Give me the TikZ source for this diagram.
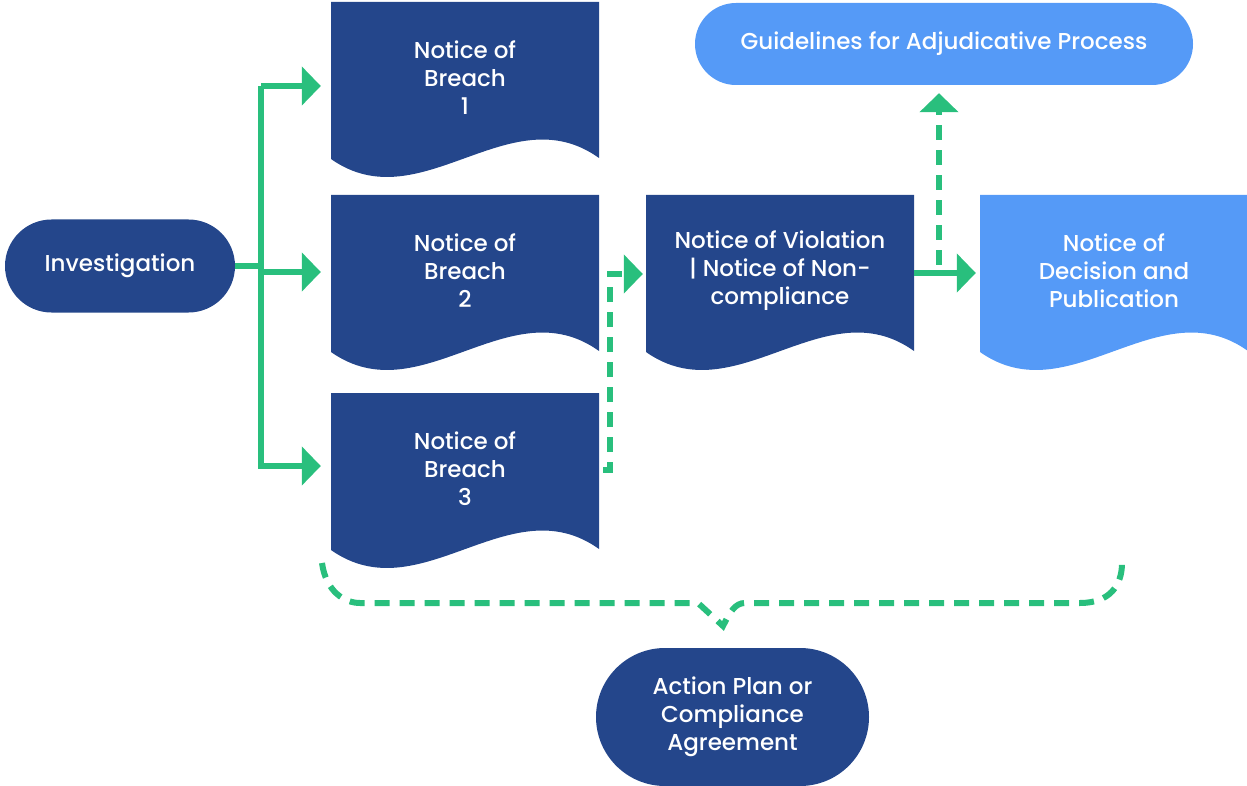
\documentclass[tikz,border=0pt]{standalone}
\usepackage{fontspec}
\setmainfont{Poppins Medium}
\usetikzlibrary{arrows.meta,shapes.misc}
\definecolor{dblue}{HTML}{24468B}
\definecolor{lblue}{HTML}{559AF7}
\definecolor{grn}{HTML}{29BF7D}
\begin{document}
\begin{tikzpicture}[x=1pt,y=-1pt,
  txt/.style={text=white, align=center, font=\fontsize{23}{28}\selectfont},
  pill/.style={txt, rounded rectangle, fill=#1, inner sep=0pt},
  docbox/.style={txt, rectangle, minimum width=268pt, minimum height=156pt, inner sep=0pt},
  docshape/.pic={\fill[pic actions] (0,0) -- (268,0) -- (268,156) .. controls (178.7,92) and (89.3,220) .. (0,157) -- cycle;},
  gline/.style={draw=grn, line width=6pt},
  tip/.style={-{Triangle[length=19pt,width=38pt]}},
  gdash/.style={gline, dash pattern=on 15pt off 10pt},
]
\useasboundingbox (0,0) rectangle (1247,786);
% shapes
\pic[fill=dblue] at (331,2) {docshape};
\pic[fill=dblue] at (331,195) {docshape};
\pic[fill=dblue] at (331,393) {docshape};
\pic[fill=dblue] at (646,195) {docshape};
\pic[fill=lblue] at (980,195) {docshape};
% nodes
\node[pill=dblue, minimum width=230pt, minimum height=93pt] (inv) at (120,266) {Investigation};
\node[pill=lblue, minimum width=498pt, minimum height=82pt] (guide) at (944,44) {Guidelines for Adjudicative Process};
\node[pill=dblue, minimum width=273pt, minimum height=138pt] (act) at (732.5,717) {Action Plan or\\Compliance\\Agreement};
\node[docbox] (b1) at (465,78) {Notice of\\Breach\\1};
\node[docbox] (b2) at (465,271) {Notice of\\Breach\\2};
\node[docbox] (b3) at (465,469) {Notice of\\Breach\\3};
\node[docbox] (viol) at (780,271) {Notice of Violation\\| Notice of Non-\\compliance};
\node[docbox] (dec) at (1114,271) {Notice of\\Decision and\\Publication};
% coordinates
\coordinate (j) at (261,266);
\coordinate (y1) at (0,86);
\coordinate (y2) at (0,272);
\coordinate (y3) at (0,466);
\coordinate (d0) at (603,470);
\coordinate (d1) at (610,274);
\coordinate (vx) at (939,273);
\coordinate (br0) at (322,563);
\coordinate (br1) at (360,603);
\coordinate (br2) at (698,603);
\coordinate (brm) at (723,626);
\coordinate (br3) at (745,603);
\coordinate (br4) at (1080,603);
\coordinate (br5) at (1122,563);
% connectors
\draw[gline] (inv.east) -- (j);
\draw[gline, tip, shorten >=10pt] (j |- y1) -- (b1.west |- y1);
\draw[gline, tip, shorten >=10pt] (j) |- (b2.west |- y2);
\draw[gline, tip, shorten >=10pt] (j |- y1) -- (j |- y3) -- (b3.west |- y3);
\draw[gdash, tip, shorten >=3pt] (d0) -- (d0 -| d1) -- (d1) -- (viol.west |- d1);
\draw[gline, tip, shorten >=4pt] (viol.east |- vx) -- (dec.west |- vx);
\draw[gdash, tip, shorten >=8pt] (939,265) -- (guide.south -| vx);
\draw[gdash] (br0) .. controls (326,592) and (345,603) .. (br1) -- (br2) -- (brm) .. controls (730,612) and (735,603) .. (br3) -- (br4) .. controls (1110,603) and (1122,585) .. (br5);
\end{tikzpicture}
\end{document}
